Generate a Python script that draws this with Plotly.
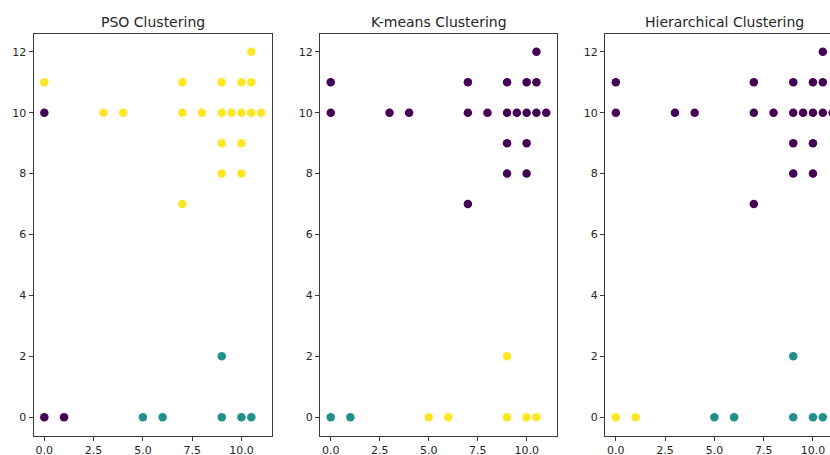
import plotly.graph_objects as go

# Shared point coordinates
x_vals = [0, 0, 3, 4, 7, 7, 7, 8, 9, 9, 9, 9, 9.5, 10, 10, 10, 10, 10.5, 10.5, 10.5, 11,
          0, 1, 5, 6, 9, 9, 10, 10.5]
y_vals = [11, 10, 10, 10, 11, 10, 7, 10, 11, 10, 9, 8, 10, 11, 10, 9, 8, 12, 11, 10, 10,
          0, 0, 0, 0, 2, 0, 0, 0]

# Cluster assignments per method
pso_labels = [2, 0] + [2] * 19 + [0, 0] + [1] * 6
kmeans_labels = [0] * 21 + [1, 1] + [2] * 6
hier_labels = [0] * 21 + [2, 2] + [1] * 6

titles = ["PSO Clustering", "K-means Clustering", "Hierarchical Clustering"]
x_ticks = [0, 2.5, 5, 7.5, 10]
x_tick_text = ["0.0", "2.5", "5.0", "7.5", "10.0"]
y_ticks = [0, 2, 4, 6, 8, 10, 12]

W, H = 830, 455
panels_px = [(33.5, 272.0), (320.0, 557.0), (605.0, 843.0)]
top_px, bottom_px = 33.5, 435.5
px_per_unit = (272.0 - 33.5) / 12.1

fig = go.Figure()
font = dict(family="DejaVu Sans", size=11, color="#262626")
line_col = "#3a3a3a"

for i, (labels, title) in enumerate(zip([pso_labels, kmeans_labels, hier_labels], titles)):
    n = i + 1
    xa = "x" if n == 1 else f"x{n}"
    ya = "y" if n == 1 else f"y{n}"
    fig.add_trace(go.Scatter(
        x=x_vals, y=y_vals, mode="markers", xaxis=xa, yaxis=ya,
        marker=dict(color=labels, colorscale="Viridis", cmin=0, cmax=2, size=8.5,
                    line=dict(width=0)),
        showlegend=False, hoverinfo="skip",
    ))
    left, right = panels_px[i]
    x0 = left / W
    x1 = min(right / W, 1.0)
    xmin = -0.55
    if right > W:
        xmax = xmin + (W - left) / px_per_unit
    else:
        xmax = 11.55
    xkey = "xaxis" if n == 1 else f"xaxis{n}"
    ykey = "yaxis" if n == 1 else f"yaxis{n}"
    fig.update_layout(**{
        xkey: dict(domain=[x0, x1], range=[xmin, xmax], anchor=ya,
                   tickvals=x_ticks, ticktext=x_tick_text, ticks="outside", ticklen=4,
                   tickcolor=line_col, showgrid=False, zeroline=False, showline=True,
                   linecolor=line_col, linewidth=1, mirror=True, tickfont=font,
                   automargin=False),
        ykey: dict(domain=[1 - bottom_px / H, 1 - top_px / H], range=[-0.6, 12.6], anchor=xa,
                   tickvals=y_ticks, ticks="outside", ticklen=4, tickcolor=line_col,
                   showgrid=False, zeroline=False, showline=True, linecolor=line_col,
                   linewidth=1, mirror=(right <= W), tickfont=font, automargin=False),
    })
    fig.add_annotation(
        text=title, x=(left + right) / 2 / W, y=1 - 21.5 / H, xref="paper", yref="paper",
        showarrow=False, xanchor="center", yanchor="middle",
        font=dict(family="DejaVu Sans", size=14, color="#262626"),
    )

fig.update_layout(
    width=W, height=H, margin=dict(l=0, r=0, t=0, b=0, autoexpand=False),
    paper_bgcolor="white", plot_bgcolor="white",
)

fig.write_html("out.html")
